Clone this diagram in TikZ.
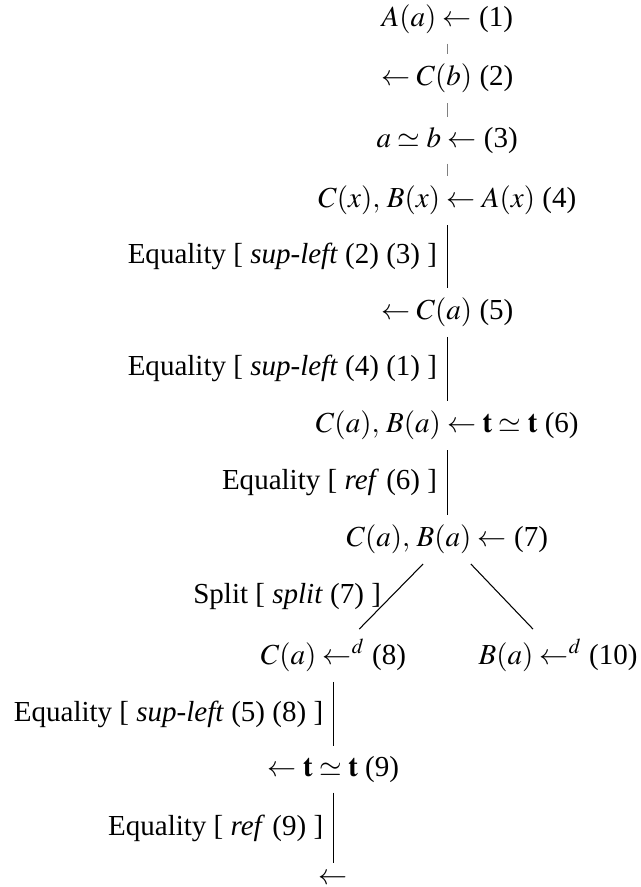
\documentclass[11pt,tikz,border=0pt]{standalone}
\usepackage{amsmath}
\usepackage{mathptmx}
\usepackage[no-math]{fontspec}
\setmainfont{Liberation Serif}
\usepackage{tikz}

\begin{document}
\begin{tikzpicture}[clause/.style={}, given/.style={gray}, infer/.style={black}]
  \useasboundingbox (0, 0) rectangle (8.49, -11.76);
  \node[clause] (C1) at (5.93, -0.25) {$A(a) \leftarrow$ (1)};
  \node[clause] (C2) at (5.93, -1.04) {$\leftarrow C(b)$ (2)};
  \node[clause] (C3) at (5.93, -1.86) {$a \simeq b \leftarrow$ (3)};
  \node[clause] (C4) at (5.93, -2.66) {$C(x),\, B(x) \leftarrow A(x)$ (4)};
  \node[clause] (C5) at (5.93, -4.14) {$\leftarrow C(a)$ (5)};
  \node[clause] (C6) at (5.93, -5.64) {$C(a),\, B(a) \leftarrow \mathbf{t} \simeq \mathbf{t}$ (6)};
  \node[clause] (C7) at (5.93, -7.15) {$C(a),\, B(a) \leftarrow$ (7)};
  \node[clause] (C8) at (4.42, -8.69) {$C(a) \leftarrow^{d}$ (8)};
  \node[clause] (C10) at (7.40, -8.69) {$B(a) \leftarrow^{d}$ (10)};
  \node[clause] (C9) at (4.42, -10.20) {$\leftarrow \mathbf{t} \simeq \mathbf{t}$ (9)};
  \node[clause] (E) at (4.42, -11.65) {$\leftarrow$};
  \draw[given] (C1) -- (C2);
  \draw[given] (C2) -- (C3);
  \draw[given] (C3) -- (C4);
  \draw[infer] (C4) -- node[left] {Equality [ \textit{sup-left} (2) (3) ]} (C5);
  \draw[infer] (C5) -- node[left] {Equality [ \textit{sup-left} (4) (1) ]} (C6);
  \draw[infer] (C6) -- node[left] {Equality [ \textit{ref} (6) ]} (C7);
  \draw[infer] (C7) -- node[left] {Split [ \textit{split} (7) ]} (C8);
  \draw[infer] (C7) -- (C10);
  \draw[infer] (C8) -- node[left] {Equality [ \textit{sup-left} (5) (8) ]} (C9);
  \draw[infer] (C9) -- node[left] {Equality [ \textit{ref} (9) ]} (E);
\end{tikzpicture}
\end{document}
